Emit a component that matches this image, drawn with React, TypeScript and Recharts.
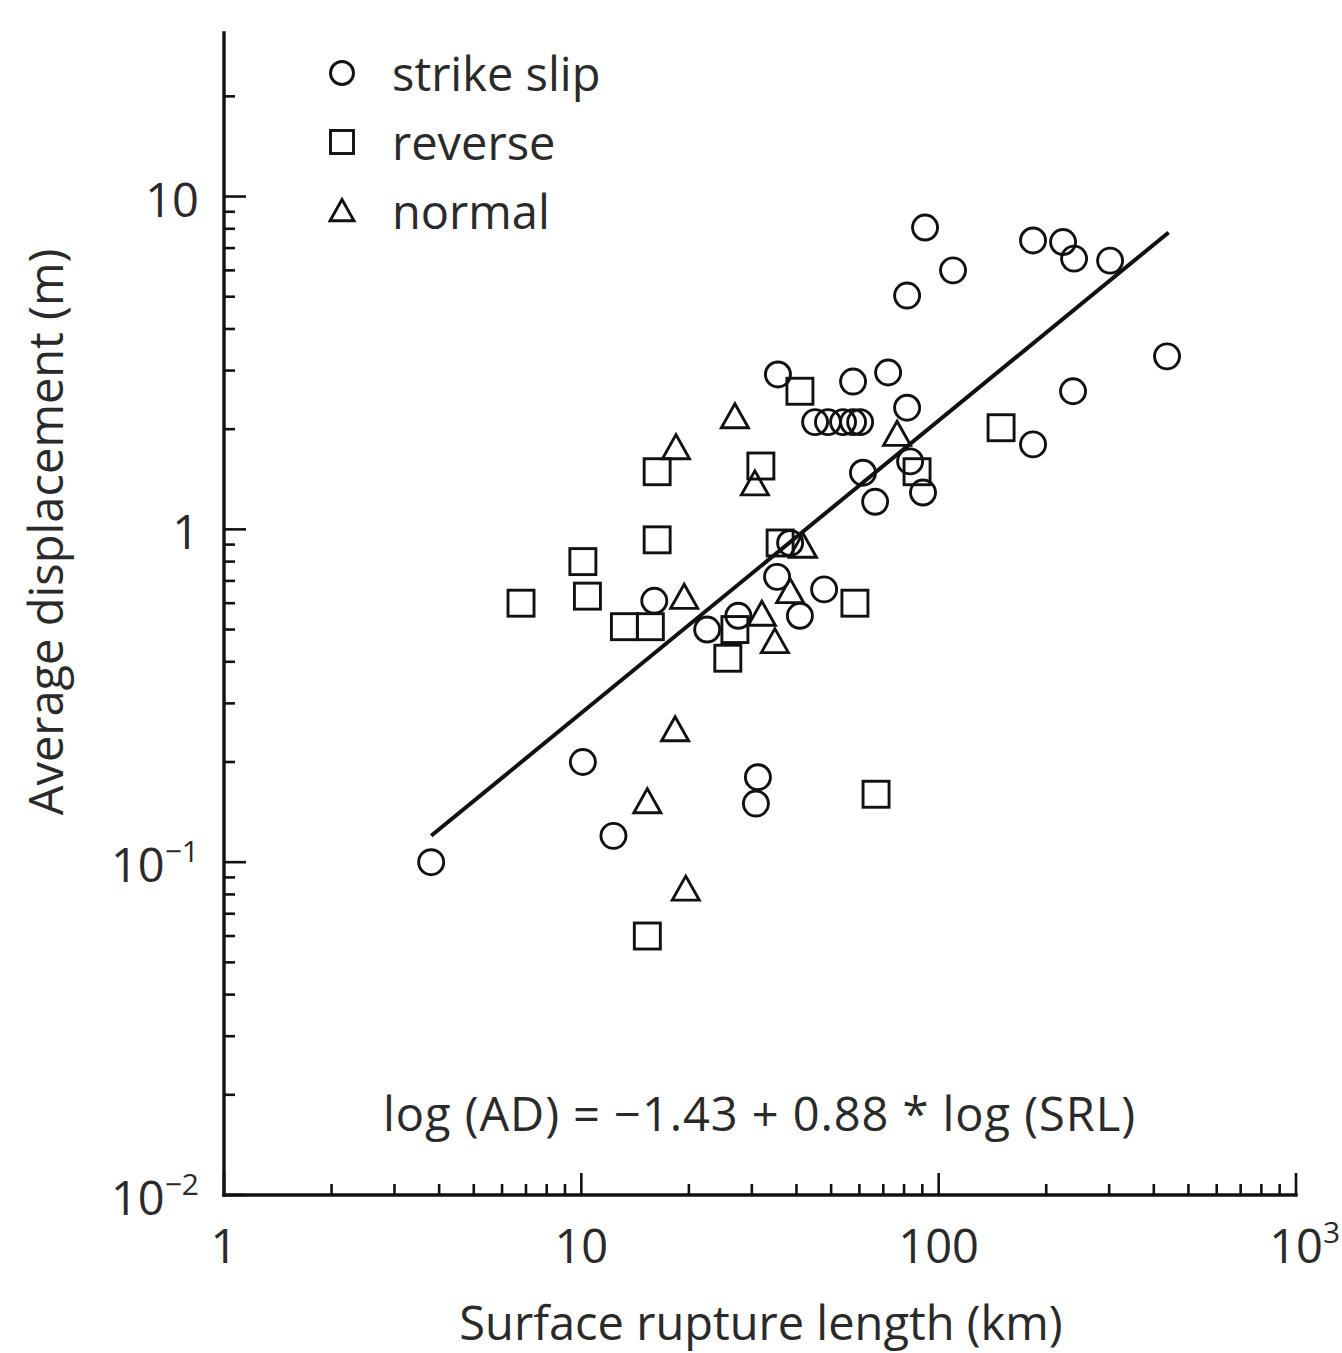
import React from 'react';
import { ScatterChart, Scatter, XAxis, YAxis, Customized } from 'recharts';

// ---- Data ----
const strikeSlipSRL = [3.8, 10.1, 12.3, 31.2, 30.8, 16.0, 22.5, 27.5, 35.3, 47.8, 40.9, 38.4, 35.5, 57.6, 72.2, 45.1, 49.0, 54.0, 57.6, 60.3, 81.6, 61.4, 66.4, 83.2, 90.4, 91.6, 109.7, 81.6, 183.7, 222.9, 239.3, 301.8, 435.6, 237.7, 183.7];
const strikeSlipAD = [0.1, 0.2, 0.12, 0.18, 0.15, 0.61, 0.5, 0.55, 0.72, 0.66, 0.55, 0.91, 2.92, 2.78, 2.96, 2.1, 2.1, 2.1, 2.1, 2.1, 2.32, 1.48, 1.21, 1.6, 1.29, 8.07, 6.0, 5.04, 7.38, 7.3, 6.51, 6.42, 3.31, 2.6, 1.8];

const reverseSRL = [16.3, 16.3, 10.1, 10.4, 6.78, 13.2, 15.6, 40.9, 31.8, 87.0, 149.5, 36.0, 58.3, 26.9, 25.7, 15.3, 66.8];
const reverseAD = [1.49, 0.93, 0.8, 0.63, 0.6, 0.51, 0.51, 2.6, 1.55, 1.49, 2.02, 0.91, 0.6, 0.5, 0.41, 0.06, 0.16];

const normalSRL = [18.4, 26.9, 30.6, 76.5, 41.7, 19.4, 38.4, 32.0, 34.8, 18.3, 15.3, 19.6];
const normalAD = [1.76, 2.18, 1.37, 1.93, 0.89, 0.625, 0.65, 0.556, 0.46, 0.25, 0.152, 0.083];

// regression line end points
const fitSRL = [3.8, 440];
const fitAD = [0.12, 7.8];

const seriesNames = ['strike slip', 'reverse', 'normal'];
const equationText = 'log (AD) = \u22121.43 + 0.88 * log (SRL)';
const xAxisTitle = 'Surface rupture length (km)';
const yAxisTitle = 'Average displacement (m)';

// ---- Ticks ----
const xMajorTicks = [1, 10, 100, 1000];
const xMajorBase = ['1', '10', '100', '10'];
const xMajorExp = ['', '', '', '3'];
const xMinorTicks = [2, 3, 4, 5, 6, 7, 8, 9, 20, 30, 40, 50, 60, 70, 80, 90, 200, 300, 400, 500, 600, 700, 800, 900];

const yMajorTicks = [0.01, 0.1, 1, 10];
const yMajorBase = ['10', '10', '1', '10'];
const yMajorExp = ['\u22122', '\u22121', '', ''];
const yMinorTicks = [0.02, 0.03, 0.04, 0.05, 0.06, 0.07, 0.08, 0.09, 0.2, 0.3, 0.4, 0.5, 0.6, 0.7, 0.8, 0.9, 2, 3, 4, 5, 6, 7, 8, 9, 20];

const xAllTicks = [...xMajorTicks, ...xMinorTicks].sort((a, b) => a - b);
const yAllTicks = [...yMajorTicks, ...yMinorTicks].sort((a, b) => a - b);

const zip = (xs: number[], ys: number[]) => xs.map((x, i) => ({ x, y: ys[i] }));
const strikeSlipData = zip(strikeSlipSRL, strikeSlipAD);
const reverseData = zip(reverseSRL, reverseAD);
const normalData = zip(normalSRL, normalAD);
const fitData = zip(fitSRL, fitAD);

const FONT = "'Open Sans', 'Noto Sans', sans-serif";
const TEXT = '#2a2a2a';
const INK = '#111';
const FS = 47;
const MARK_W = 2.9;

const MAJOR_LEN = 22;
const MINOR_LEN = 11;

const circlePath = (cx: number, cy: number, r: number) => <circle cx={cx} cy={cy} r={r} fill="none" stroke={INK} strokeWidth={MARK_W} />;
const squarePath = (cx: number, cy: number, h: number) => (
  <rect x={cx - h} y={cy - h} width={2 * h} height={2 * h} fill="none" stroke={INK} strokeWidth={MARK_W} />
);
const trianglePath = (cx: number, cy: number, h: number) => (
  <polygon
    points={`${cx},${cy - h} ${cx + h * 1.04},${cy + h * 0.85} ${cx - h * 1.04},${cy + h * 0.85}`}
    fill="none"
    stroke={INK}
    strokeWidth={MARK_W}
  />
);

const CircleShape = (p: any) => circlePath(p.cx, p.cy, 12.5);
const SquareShape = (p: any) => squarePath(p.cx, p.cy, 13);
const TriangleShape = (p: any) => trianglePath(p.cx, p.cy, 13);
const NoShape = () => <g />;

const XTick = (props: any) => {
  const { x, y, payload } = props;
  const v = payload.value;
  const idx = xMajorTicks.indexOf(v);
  const major = idx >= 0;
  return (
    <g>
      <line x1={x} x2={x} y1={y} y2={y - (major ? MAJOR_LEN : MINOR_LEN)} stroke={INK} strokeWidth={2.6} />
      {major && (
        <text x={x} y={y + 50} textAnchor="middle" dominantBaseline="central" fontSize={FS} fontFamily={FONT} fill={TEXT}>
          {xMajorBase[idx]}
        </text>
      )}
      {major && xMajorExp[idx] && (
        <text x={x + 27} y={y + 36} textAnchor="start" dominantBaseline="central" fontSize={30} fontFamily={FONT} fill={TEXT}>
          {xMajorExp[idx]}
        </text>
      )}
    </g>
  );
};

const YTick = (props: any) => {
  const { x, y, payload } = props;
  const v = payload.value;
  const idx = yMajorTicks.findIndex((t) => Math.abs(t - v) < 1e-9);
  const major = idx >= 0;
  return (
    <g>
      <line x1={x} x2={x + (major ? MAJOR_LEN : MINOR_LEN)} y1={y} y2={y} stroke={INK} strokeWidth={2.6} />
      {major && (
        <text x={x - 25} y={y + 2} textAnchor="end" dominantBaseline="central" fontSize={FS} fontFamily={FONT} fill={TEXT}>
          {yMajorBase[idx]}
          {yMajorExp[idx] && (
            <tspan fontSize={30} dy={-14}>
              {yMajorExp[idx]}
            </tspan>
          )}
        </text>
      )}
    </g>
  );
};

const legendShapes = [circlePath, squarePath, trianglePath];

const Overlay = () => (
  <g fontFamily={FONT} fill={TEXT}>
    {seriesNames.map((name, i) => (
      <g key={name}>
        {legendShapes[i](342, 73 + i * 69, 11.5)}
        <text x={392} y={73 + i * 69} dominantBaseline="central" fontSize={FS} fill={TEXT}>
          {name}
        </text>
      </g>
    ))}
    <text x={761} y={1322} textAnchor="middle" dominantBaseline="central" fontSize={FS}>
      {xAxisTitle}
    </text>
    <text transform="translate(45,532) rotate(-90)" textAnchor="middle" dominantBaseline="central" fontSize={FS}>
      {yAxisTitle}
    </text>
    <text x={383} y={1113} dominantBaseline="central" fontSize={FS} textLength={752} lengthAdjust="spacing">
      {equationText}
    </text>
  </g>
);

export default function App() {
  return (
    <div style={{ position: 'absolute', left: 0, top: 0, width: 1342, height: 1353, background: '#fff' }}>
      <ScatterChart width={1342} height={1353} margin={{ top: 33, right: 46, bottom: 0, left: 0 }}>
        <XAxis
          dataKey="x"
          type="number"
          scale="log"
          domain={[1, 1000]}
          allowDataOverflow
          ticks={xAllTicks}
          interval={0}
          tickSize={0}
          tickMargin={0}
          tick={<XTick />}
          axisLine={{ stroke: INK, strokeWidth: 3.4, strokeLinecap: 'square' }}
          height={158}
        />
        <YAxis
          dataKey="y"
          type="number"
          scale="log"
          domain={[0.01, 31]}
          allowDataOverflow
          ticks={yAllTicks}
          interval={0}
          tickSize={0}
          tickMargin={0}
          tick={<YTick />}
          axisLine={{ stroke: INK, strokeWidth: 3.4, strokeLinecap: 'square' }}
          width={224}
        />
        <Scatter
          name="regression"
          data={fitData}
          line={{ stroke: INK, strokeWidth: 4 }}
          stroke={INK}
          strokeWidth={4}
          shape={NoShape}
          legendType="none"
          isAnimationActive={false}
        />
        <Scatter name={seriesNames[0]} data={strikeSlipData} shape={CircleShape} fill={INK} isAnimationActive={false} />
        <Scatter name={seriesNames[1]} data={reverseData} shape={SquareShape} fill={INK} isAnimationActive={false} />
        <Scatter name={seriesNames[2]} data={normalData} shape={TriangleShape} fill={INK} isAnimationActive={false} />
        <Customized component={<Overlay />} />
      </ScatterChart>
    </div>
  );
}
